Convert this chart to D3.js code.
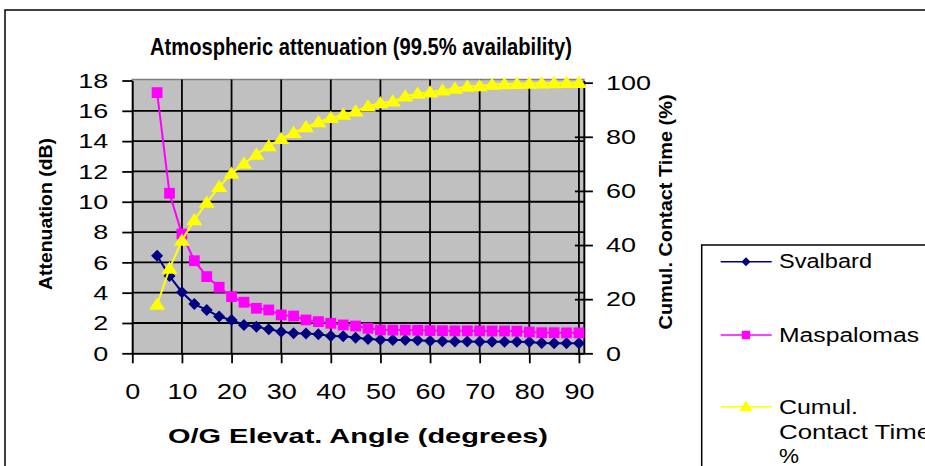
<!DOCTYPE html>
<html>
<head>
<meta charset="UTF-8">
<title>Atmospheric attenuation</title>
<script src="https://d3js.org/d3.v7.min.js"></script>
<style>
body { margin: 0; background: #fff; }
svg { font-family: "Liberation Sans", Arial, sans-serif; }
</style>
</head>
<body>
<svg id="chart" width="925" height="466"></svg>
<script>
// elevation angle (deg) and the three series
var elevation = [5, 7.5, 10, 12.5, 15, 17.5, 20, 22.5, 25, 27.5, 30, 32.5, 35, 37.5, 40, 42.5, 45, 47.5,
  50, 52.5, 55, 57.5, 60, 62.5, 65, 67.5, 70, 72.5, 75, 77.5, 80, 82.5, 85, 87.5, 90];
var svalbard = [6.44, 5.10, 4.03, 3.25, 2.86, 2.42, 2.20, 1.87, 1.76, 1.58, 1.43, 1.32, 1.30, 1.25, 1.14, 1.12, 1.03, 0.94,
  0.90, 0.88, 0.88, 0.86, 0.81, 0.79, 0.78, 0.78, 0.77, 0.77, 0.76, 0.76, 0.75, 0.68, 0.67, 0.67, 0.66];
var maspalomas = [17.2, 10.56, 7.87, 6.11, 5.06, 4.36, 3.74, 3.37, 2.97, 2.86, 2.53, 2.46, 2.20, 2.09, 1.98, 1.87, 1.80, 1.65,
  1.54, 1.53, 1.53, 1.52, 1.50, 1.49, 1.48, 1.48, 1.48, 1.47, 1.47, 1.46, 1.40, 1.36, 1.36, 1.35, 1.35];
var cumulTime = [18.0, 31.3, 41.7, 49.3, 55.7, 61.5, 66.4, 70.1, 73.5, 76.6, 79.3, 81.5, 83.6, 85.5, 87.0, 88.2, 89.4, 91.3,
  92.5, 93.1, 95.0, 96.0, 96.5, 97.2, 97.8, 98.6, 98.8, 99.3, 99.5, 99.6, 99.7, 99.8, 99.9, 100, 100];
var xTicks = [0, 10, 20, 30, 40, 50, 60, 70, 80, 90];
var yTicks = [0, 2, 4, 6, 8, 10, 12, 14, 16, 18];
var y2Ticks = [0, 20, 40, 60, 80, 100];
var seriesNames = ["Svalbard", "Maspalomas", "Cumul."];

var svg = d3.select("#chart");
var plotLeft = 132.3, plotRight = 583.9, plotTop = 80.5, plotBottom = 353.3;

var x = d3.scaleLinear().domain([0, 91]).range([plotLeft, plotRight]);
var yL = d3.scaleLinear().domain([0, 18]).range([plotBottom, plotTop]);
var yR = d3.scaleLinear().domain([0, 100.8]).range([plotBottom, plotTop]);

// outer chart frame (runs off the right and bottom edge)
svg.append("rect").attr("x", 5).attr("y", 10).attr("width", 1000).attr("height", 600)
  .attr("fill", "#fff").attr("stroke", "#000").attr("stroke-width", 1.5);

// plot area
svg.append("rect").attr("x", plotLeft).attr("y", plotTop - 1).attr("width", plotRight - plotLeft).attr("height", plotBottom - plotTop + 1)
  .attr("fill", "#c0c0c0").attr("stroke", "#808080").attr("stroke-width", 1.5);

// gridlines
svg.append("g").selectAll("line").data(yTicks.filter(function(d) { return d > 0 && d < 18; })).join("line")
  .attr("x1", plotLeft).attr("x2", plotRight).attr("y1", function(d) { return yL(d); }).attr("y2", function(d) { return yL(d); })
  .attr("stroke", "#000").attr("stroke-width", 1.8);
svg.append("g").selectAll("line").data(xTicks.filter(function(d) { return d > 0; })).join("line")
  .attr("y1", plotTop - 1).attr("y2", plotBottom).attr("x1", function(d) { return x(d); }).attr("x2", function(d) { return x(d); })
  .attr("stroke", "#000").attr("stroke-width", 1.8);

function styleAxis(g, size) {
  g.attr("font-size", size).attr("font-family", "Liberation Sans, Arial, sans-serif");
  g.selectAll("line, path").attr("stroke", "#000").attr("stroke-width", 1.8);
  g.selectAll("text").attr("fill", "#000")
    .attr("textLength", function(d) { return String(d).length * 15; })
    .attr("lengthAdjust", "spacingAndGlyphs");
}

var gx = svg.append("g").attr("transform", "translate(0," + plotBottom + ")")
  .call(d3.axisBottom(x).tickValues(xTicks).tickSizeInner(10).tickSizeOuter(0).tickPadding(20));
styleAxis(gx, 22);

var gy = svg.append("g").attr("transform", "translate(" + plotLeft + ",0)")
  .call(d3.axisLeft(yL).tickValues(yTicks).tickSizeInner(10).tickSizeOuter(0).tickPadding(14));
styleAxis(gy, 21);

var gy2 = svg.append("g").attr("transform", "translate(" + plotRight + ",0)")
  .call(d3.axisRight(yR).tickValues(y2Ticks).tickSizeInner(9).tickSizeOuter(0).tickPadding(13));
gy2.selectAll(".tick line").attr("x1", -9);
styleAxis(gy2, 21);

// markers
function diamond(s) { return "M0," + (-s) + "L" + s + ",0L0," + s + "L" + (-s) + ",0Z"; }
function square(s) { return "M" + (-s) + "," + (-s) + "h" + (2 * s) + "v" + (2 * s) + "h" + (-2 * s) + "Z"; }
function triangle(s) { return "M0," + (-s) + "L" + (s * 1.15) + "," + (s * 0.75) + "L" + (-s * 1.15) + "," + (s * 0.75) + "Z"; }

var series = [
  { vals: svalbard, y: yL, color: "#000080", shape: diamond, size: 6 },
  { vals: maspalomas, y: yL, color: "#ff00ff", shape: square, size: 5.4 },
  { vals: cumulTime, y: yR, color: "#ffff00", shape: triangle, size: 7 }
];

series.forEach(function(s) {
  var pts = elevation.map(function(e, i) { return [x(e), s.y(s.vals[i])]; });
  svg.append("path").attr("d", d3.line()(pts)).attr("fill", "none")
    .attr("stroke", s.color).attr("stroke-width", 2);
  svg.append("g").selectAll("path").data(pts).join("path")
    .attr("transform", function(p) { return "translate(" + p[0] + "," + p[1] + ")"; })
    .attr("d", s.shape(s.size)).attr("fill", s.color);
});

// titles
svg.append("text").attr("x", 361).attr("y", 55).attr("text-anchor", "middle")
  .attr("font-size", 24).attr("font-weight", "bold").attr("textLength", 422).attr("lengthAdjust", "spacingAndGlyphs")
  .text("Atmospheric attenuation (99.5% availability)");
svg.append("text").attr("x", 358).attr("y", 443).attr("text-anchor", "middle")
  .attr("font-size", 21).attr("font-weight", "bold").attr("textLength", 380).attr("lengthAdjust", "spacingAndGlyphs")
  .text("O/G Elevat. Angle (degrees)");
svg.append("text").attr("transform", "translate(52,214) rotate(-90)").attr("text-anchor", "middle")
  .attr("font-size", 18).attr("font-weight", "bold").attr("textLength", 152).attr("lengthAdjust", "spacingAndGlyphs")
  .text("Attenuation (dB)");
svg.append("text").attr("transform", "translate(672,212) rotate(-90)").attr("text-anchor", "middle")
  .attr("font-size", 18).attr("font-weight", "bold").attr("textLength", 235).attr("lengthAdjust", "spacingAndGlyphs")
  .text("Cumul. Contact Time (%)");

// legend
var lg = svg.append("g");
lg.append("rect").attr("x", 701.7).attr("y", 245).attr("width", 400).attr("height", 400)
  .attr("fill", "#fff").attr("stroke", "#000").attr("stroke-width", 1.5);
var legendY = [261.7, 335, 406.7];
var legendShapes = [diamond(4.5), square(4.2), triangle(6)];
series.forEach(function(s, i) {
  lg.append("line").attr("x1", 720.7).attr("x2", 771.7).attr("y1", legendY[i]).attr("y2", legendY[i])
    .attr("stroke", s.color).attr("stroke-width", 1.6);
  lg.append("path").attr("transform", "translate(746," + legendY[i] + ")").attr("d", legendShapes[i]).attr("fill", s.color);
});
function legendText(str, yPos, len) {
  lg.append("text").attr("x", 779).attr("y", yPos).attr("font-size", 19.5)
    .attr("textLength", len).attr("lengthAdjust", "spacingAndGlyphs").text(str);
}
legendText(seriesNames[0], 268.3, 93);
legendText(seriesNames[1], 341.7, 140);
legendText(seriesNames[2], 414.3, 79);
legendText("Contact Time", 438.5, 152);
legendText("%", 463, 20);
</script>
</body>
</html>
